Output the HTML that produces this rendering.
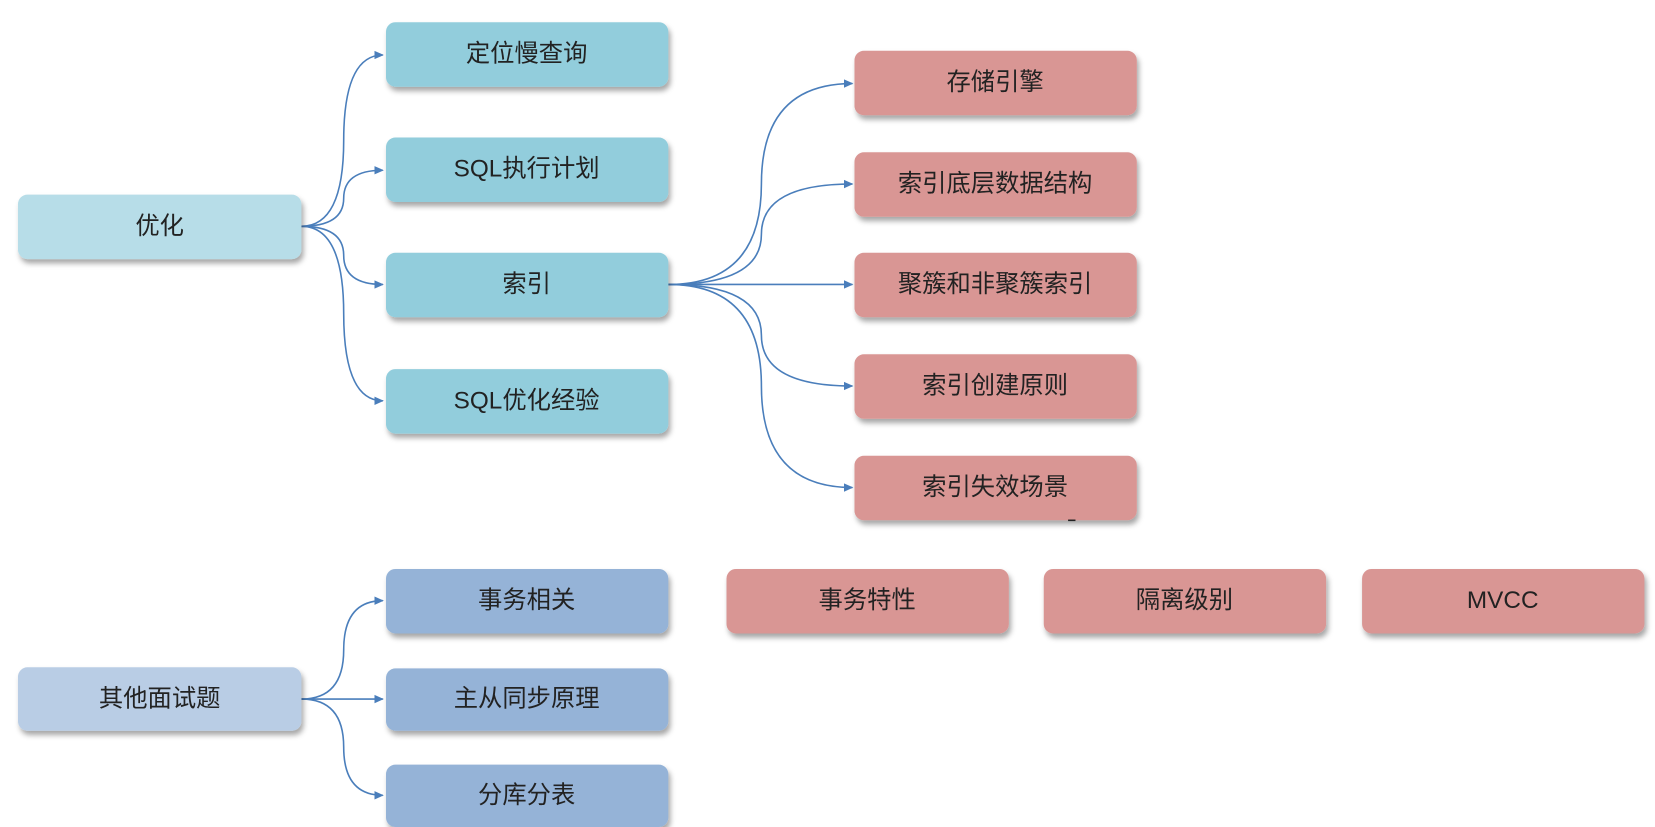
<!DOCTYPE html>
<html><head><meta charset="utf-8"><style>
html,body{margin:0;padding:0;background:#fff;}
svg{display:block}
text{font-family:"Liberation Sans","Noto Sans CJK SC",sans-serif;font-size:23px;fill:#222;text-anchor:middle;dominant-baseline:central}
</style></head><body>
<svg width="1655" height="827" viewBox="0 0 1565 782" preserveAspectRatio="none">
<defs>
<filter id="sh" x="-10%" y="-20%" width="125%" height="160%"><feDropShadow dx="2" dy="4" stdDeviation="2.5" flood-color="#000" flood-opacity="0.35"/></filter>
<marker id="ar" markerWidth="10" markerHeight="10" refX="8" refY="5" orient="auto" markerUnits="userSpaceOnUse"><path d="M0,1 L9,5 L0,9 z" fill="#4a7ebb"/></marker>
</defs>
<g fill="none" stroke="#4a7ebb" stroke-width="1.5" marker-end="url(#ar)">
<path d="M285,214 Q325,214 325,133 T362,52"/>
<path d="M285,214 Q325,214 325,187.5 T362,161"/>
<path d="M285,214 Q325,214 325,241.5 T362,269"/>
<path d="M285,214 Q325,214 325,296.5 T362,379"/>
<path d="M632,269 Q720,269 720,174 T806,79"/>
<path d="M632,269 Q720,269 720,221.5 T806,174"/>
<path d="M632,269 L806,269"/>
<path d="M632,269 Q720,269 720,317 T806,365"/>
<path d="M632,269 Q720,269 720,365 T806,461"/>
<path d="M285,661 Q325,661 325,614.5 T362,568"/>
<path d="M285,661 L362,661"/>
<path d="M285,661 Q325,661 325,706.5 T362,752"/>
</g>
<g filter="url(#sh)">
<rect x="17" y="184" width="268" height="61" rx="9" fill="#b7dde8"/>
<rect x="365" y="21" width="267" height="61" rx="9" fill="#92cddc"/>
<rect x="365" y="130" width="267" height="61" rx="9" fill="#92cddc"/>
<rect x="365" y="239" width="267" height="61" rx="9" fill="#92cddc"/>
<rect x="365" y="349" width="267" height="61" rx="9" fill="#92cddc"/>
<rect x="808" y="48" width="267" height="61" rx="9" fill="#d99694"/>
<rect x="808" y="144" width="267" height="61" rx="9" fill="#d99694"/>
<rect x="808" y="239" width="267" height="61" rx="9" fill="#d99694"/>
<rect x="808" y="335" width="267" height="61" rx="9" fill="#d99694"/>
<rect x="808" y="431" width="267" height="61" rx="9" fill="#d99694"/>
<rect x="17" y="631" width="268" height="60" rx="9" fill="#b9cde5"/>
<rect x="365" y="538" width="267" height="61" rx="9" fill="#95b3d7"/>
<rect x="365" y="632" width="267" height="59" rx="9" fill="#95b3d7"/>
<rect x="365" y="723" width="267" height="59" rx="9" fill="#95b3d7"/>
<rect x="687" y="538" width="267" height="61" rx="9" fill="#d99694"/>
<rect x="987" y="538" width="267" height="61" rx="9" fill="#d99694"/>
<rect x="1288" y="538" width="267" height="61" rx="9" fill="#d99694"/>
</g>
<line x1="1010" y1="492" x2="1017" y2="492" stroke="#222" stroke-width="1.5"/>
<text x="151" y="214">优化</text>
<text x="498" y="51">定位慢查询</text>
<text x="498" y="160">SQL执行计划</text>
<text x="498" y="269">索引</text>
<text x="498" y="379">SQL优化经验</text>
<text x="941" y="78">存储引擎</text>
<text x="941" y="174">索引底层数据结构</text>
<text x="941" y="269">聚簇和非聚簇索引</text>
<text x="941" y="365">索引创建原则</text>
<text x="941" y="461">索引失效场景</text>
<text x="151" y="661">其他面试题</text>
<text x="498" y="568">事务相关</text>
<text x="498" y="661">主从同步原理</text>
<text x="498" y="752">分库分表</text>
<text x="820" y="568">事务特性</text>
<text x="1120" y="568">隔离级别</text>
<text x="1421" y="568">MVCC</text>
</svg>
</body></html>
